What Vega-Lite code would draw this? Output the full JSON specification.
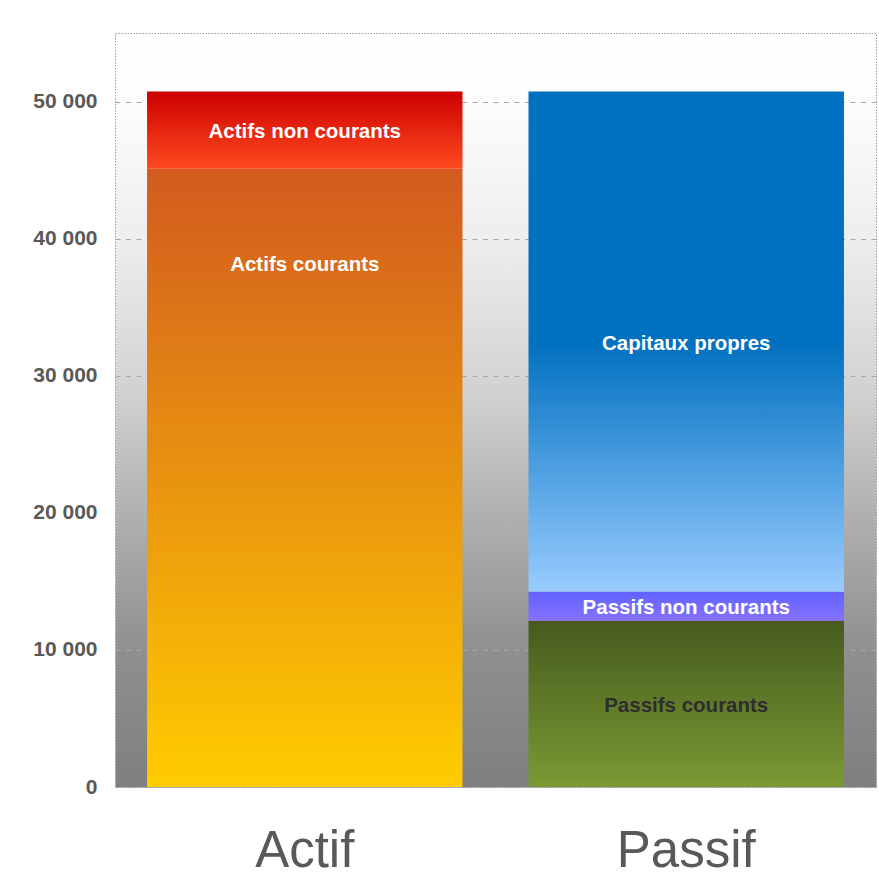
{
  "$schema": "https://vega.github.io/schema/vega-lite/v6.json",
  "autosize": {"type": "none"},
  "width": 761,
  "height": 754,
  "padding": {"left": 115, "top": 33, "right": 3, "bottom": 97},
  "background": "white",
  "config": {
    "font": "Liberation Sans",
    "view": {
      "stroke": "#9a9a9a",
      "strokeDash": [1.5, 1.5],
      "strokeWidth": 1,
      "fill": {"gradient": "linear", "x1": 0, "y1": 0, "x2": 0, "y2": 1,
        "stops": [
          {"offset": 0, "color": "#ffffff"},
          {"offset": 0.1, "color": "#fcfcfc"},
          {"offset": 0.27, "color": "#eeeeee"},
          {"offset": 0.46, "color": "#d4d4d4"},
          {"offset": 0.64, "color": "#b0b0b0"},
          {"offset": 0.82, "color": "#8f8f8f"},
          {"offset": 1, "color": "#7f7f7f"}
        ]}
    }
  },
  "data": {
    "values": [
      {"side": "Actif", "segment": "Actifs courants", "order": 1, "value": 45100},
      {"side": "Actif", "segment": "Actifs non courants", "order": 2, "value": 5630},
      {"side": "Passif", "segment": "Passifs courants", "order": 1, "value": 12120},
      {"side": "Passif", "segment": "Passifs non courants", "order": 2, "value": 2130},
      {"side": "Passif", "segment": "Capitaux propres", "order": 3, "value": 36480}
    ]
  },
  "transform": [
    {"stack": "value", "groupby": ["side"], "sort": [{"field": "order", "order": "ascending"}], "as": ["v0", "v1"]},
    {"calculate": "datum.segment === 'Actifs courants' ? datum.v1 - 6900 : (datum.v0 + datum.v1) / 2", "as": "labelPos"}
  ],
  "encoding": {
    "x": {
      "field": "side", "type": "nominal", "sort": ["Actif", "Passif"],
      "scale": {"paddingInner": 0.173, "paddingOuter": 0.084},
      "axis": {"title": null, "domain": false, "ticks": false, "grid": false, "labelAngle": 0,
        "labelFontSize": 51, "labelColor": "#595959", "labelFont": "Liberation Sans",
        "labelBaseline": "alphabetic", "labelPadding": 79}
    }
  },
  "layer": [
    {
      "transform": [{"filter": "datum.segment === 'Actifs courants'"}],
      "mark": {"type": "bar", "color": {"gradient": "linear", "x1": 0, "y1": 0, "x2": 0, "y2": 1,
        "stops": [{"offset": 0, "color": "#d25a1f"}, {"offset": 1, "color": "#ffcc00"}]}},
      "encoding": {
        "y": {"field": "v1", "type": "quantitative",
          "scale": {"domain": [0, 55000], "nice": false},
          "axis": {"title": null, "domain": false, "ticks": false,
            "values": [0, 10000, 20000, 30000, 40000, 50000],
            "labelExpr": "replace(format(datum.value, ','), ',', ' ')",
            "labelFontSize": 21, "labelFontWeight": "bold", "labelColor": "#595959",
            "labelPadding": 18, "gridColor": "#a8a8a8", "gridDash": [5, 5.5], "gridWidth": 1}},
        "y2": {"field": "v0"}
      }
    },
    {
      "transform": [{"filter": "datum.segment === 'Actifs non courants'"}],
      "mark": {"type": "bar", "color": {"gradient": "linear", "x1": 0, "y1": 0, "x2": 0, "y2": 1,
        "stops": [{"offset": 0, "color": "#cc0000"}, {"offset": 1, "color": "#ff4a20"}]}},
      "encoding": {"y": {"field": "v1", "type": "quantitative"}, "y2": {"field": "v0"}}
    },
    {
      "transform": [{"filter": "datum.segment === 'Passifs courants'"}],
      "mark": {"type": "bar", "color": {"gradient": "linear", "x1": 0, "y1": 0, "x2": 0, "y2": 1,
        "stops": [{"offset": 0, "color": "#465a1e"}, {"offset": 1, "color": "#7a9a34"}]}},
      "encoding": {"y": {"field": "v1", "type": "quantitative"}, "y2": {"field": "v0"}}
    },
    {
      "transform": [{"filter": "datum.segment === 'Passifs non courants'"}],
      "mark": {"type": "bar", "color": {"gradient": "linear", "x1": 0, "y1": 0, "x2": 0, "y2": 1,
        "stops": [{"offset": 0, "color": "#6262ff"}, {"offset": 1, "color": "#8672ff"}]}},
      "encoding": {"y": {"field": "v1", "type": "quantitative"}, "y2": {"field": "v0"}}
    },
    {
      "transform": [{"filter": "datum.segment === 'Capitaux propres'"}],
      "mark": {"type": "bar", "color": {"gradient": "linear", "x1": 0, "y1": 0, "x2": 0, "y2": 1,
        "stops": [{"offset": 0, "color": "#0070c0"}, {"offset": 0.5, "color": "#0070c0"}, {"offset": 1, "color": "#99ccff"}]}},
      "encoding": {"y": {"field": "v1", "type": "quantitative"}, "y2": {"field": "v0"}}
    },
    {
      "mark": {"type": "text", "fontSize": 20.5, "fontWeight": "bold", "baseline": "middle", "align": "center", "dy": 2},
      "encoding": {
        "y": {"field": "labelPos", "type": "quantitative"},
        "text": {"field": "segment", "type": "nominal"},
        "color": {"condition": {"test": "datum.segment === 'Passifs courants'", "value": "#2e2e2e"}, "value": "#ffffff"}
      }
    }
  ]
}
